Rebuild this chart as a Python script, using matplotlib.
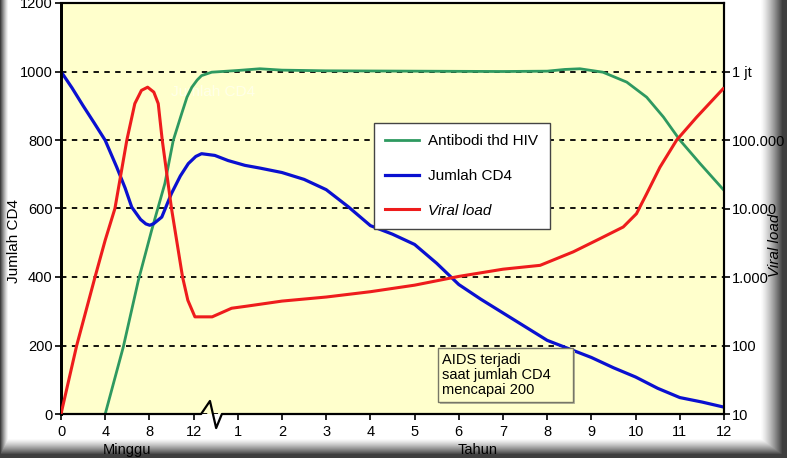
import numpy as np
import matplotlib
matplotlib.use('Agg')
import matplotlib.pyplot as plt
from matplotlib.patches import Rectangle

plt.rcParams['font.family'] = ['Liberation Sans', 'DejaVu Sans']

# posisi sumbu x: 0..3 = minggu/4 (0-12 minggu), 3..15 = tahun + 3
tick_pos = [0, 1, 2, 3, 4, 5, 6, 7, 8, 9, 10, 11, 12, 13, 14, 15]
tick_lbl = ['0', '4', '8', '12', '1', '2', '3', '4', '5', '6', '7', '8', '9', '10', '11', '12']

# jumlah CD4
cd4_x = [0, 0.25, 0.5, 0.75, 1.0, 1.26, 1.45, 1.6, 1.8, 1.92, 2.01, 2.1, 2.28, 2.5, 2.7, 2.88,
         3.05, 3.18, 3.48, 3.78, 4.16, 4.5, 5, 5.5, 6, 6.5, 7, 7.5, 8, 8.5, 9, 9.5, 10, 10.5,
         11, 11.5, 12, 12.5, 13, 13.5, 14, 14.5, 15]
cd4_y = [1000, 952, 900, 850, 799, 721, 660, 604, 568, 555, 551, 556, 575, 644, 695, 731,
         752, 760, 755, 740, 726, 718, 705, 685, 655, 605, 550, 525, 495, 440, 378, 335, 295,
         255, 215, 190, 165, 135, 108, 75, 48, 35, 20]

# antibodi thd HIV (skala relatif, sumbu kiri)
ab_x = [1.0, 1.41, 1.75, 2.05, 2.35, 2.54, 2.73, 2.85, 2.96, 3.08, 3.18, 3.41, 4, 4.5, 5, 6,
        8, 10, 11, 11.4, 11.74, 12.26, 12.8, 13.25, 13.63, 14.0, 14.46, 15]
ab_y = [0, 196, 390, 536, 673, 799, 877, 925, 954, 975, 988, 998, 1003, 1008, 1004, 1002,
        1001, 1000, 1001, 1006, 1008, 998, 969, 925, 867, 800, 731, 653]

# viral load (kopi/ml, sumbu kanan log)
vl_x = [0, 0.355, 0.77, 1.0, 1.22, 1.49, 1.67, 1.82, 1.96, 2.1, 2.2, 2.29, 2.5, 2.75, 2.87,
        3.03, 3.42, 3.86, 4.2, 5, 6, 7, 8, 9, 10, 10.84, 11.59, 12.19, 12.72, 13.02, 13.25,
        13.55, 13.93, 14.38, 14.98]
vl_y = [10, 100, 1000, 3450, 1e4, 1e5, 3.4e5, 5.3e5, 5.9e5, 5e5, 3.4e5, 1e5, 1e4, 1000, 457,
        262, 262, 350, 375, 445, 510, 610, 760, 1020, 1300, 1480, 2330, 3620, 5370, 8400,
        16400, 40000, 100000, 215000, 560000]

fig = plt.figure(figsize=(7.87, 4.58), dpi=100)

# bayangan gelap di tepi gambar
bg = fig.add_axes([0, 0, 1, 1], zorder=-5)
W, H = 787, 458
xx, yy = np.meshgrid(np.arange(W), np.arange(H))
d = np.zeros((H, W))
d = np.maximum(d, np.clip((8 - xx) / 8, 0, 1))
d = np.maximum(d, np.clip((xx - 760) / 22, 0, 1))
d = np.maximum(d, np.clip((yy - 438) / 16, 0, 1))
img = np.zeros((H, W, 4))
img[..., :3] = 0.2
img[..., 3] = d ** 1.3 * 0.95
bg.imshow(img, aspect='auto', extent=(0, 1, 0, 1))
bg.axis('off')

ax = fig.add_axes([61 / 787, 1 - 414 / 458, 663 / 787, 411 / 458])
ax.set_facecolor('#ffffcc')
ax.set_xlim(0, 15)
ax.set_ylim(0, 1200)

ax2 = ax.twinx()
ax2.set_yscale('log')
ax2.set_ylim(10, 1e7)

ax.yaxis.grid(True, color='black', linestyle=(0, (3, 3)), linewidth=1.3)
ax.set_axisbelow(True)

ax.plot(ab_x, ab_y, color='#2e9960', lw=2, label='Antibodi thd HIV', zorder=3)
ax.plot(cd4_x, cd4_y, color='#0a10d0', lw=2.3, label='Jumlah CD4', zorder=3)
ax2.plot(vl_x, vl_y, color='#ee1c1c', lw=2.2, zorder=3)
ax.plot([], [], color='#ee1c1c', lw=2.2, label='Viral load')

leg = ax.legend(loc='upper left', bbox_to_anchor=(0.472, 0.708), fontsize=11,
                frameon=True, fancybox=False, edgecolor='#444444', framealpha=1,
                borderpad=0.75, labelspacing=1.35, handlelength=2.2, handletextpad=0.6,
                borderaxespad=0)
leg.get_frame().set_linewidth(1.0)
leg.get_texts()[2].set_style('italic')
leg.set_zorder(10)

# kotak keterangan AIDS
ax.add_patch(Rectangle((8.58, 28), 3.05, 157, facecolor='#b8b8a0', edgecolor='none', zorder=4))
ax.add_patch(Rectangle((8.53, 35), 3.05, 157, facecolor='#ffffcc', edgecolor='#777766',
                       lw=1, zorder=5))
ax.text(8.63, 113, 'AIDS terjadi\nsaat jumlah CD4\nmencapai 200', fontsize=10.5,
        va='center', ha='left', linespacing=1.1, zorder=6)

ax.text(4.39, 939, 'Jumlah CD4', color='white', alpha=0.55, fontsize=11, ha='right',
        va='center', zorder=2)

# sumbu x dengan patahan
ax.plot([0, 3.17, 3.37, 3.51, 3.64, 15], [0, 0, 38, -41, 0, 0], color='black', lw=1.6,
        clip_on=False, zorder=8)

for a in (ax, ax2):
    a.spines['left'].set_linewidth(2)
    a.spines['right'].set_linewidth(1.5)
    a.spines['top'].set_linewidth(1.5)
    a.spines['bottom'].set_visible(False)

ax.set_xticks(tick_pos)
ax.set_xticklabels(tick_lbl)
ax.set_yticks([0, 200, 400, 600, 800, 1000, 1200])
ax.tick_params(axis='both', labelsize=10.5, length=4, width=1.2, direction='out', pad=2)
ax.tick_params(axis='x', pad=4)

ax2.set_yticks([10, 100, 1e3, 1e4, 1e5, 1e6])
ax2.set_yticklabels(['10', '100', '1.000', '10.000', '100.000', '1 jt'])
ax2.minorticks_off()
ax2.tick_params(axis='y', labelsize=10.5, length=4, width=1.2, direction='out', pad=2)

ax.set_ylabel('Jumlah CD4', fontsize=11)
ax.yaxis.set_label_coords(-0.061, 0.42)
ax2.set_ylabel('Viral load', fontsize=11, style='italic')
ax2.yaxis.set_label_coords(1.066, 0.41)

ax.text(1.5, -0.088, 'Minggu', transform=ax.get_xaxis_transform(), ha='center',
        va='center', fontsize=10.5)
ax.text(9.43, -0.088, 'Tahun', transform=ax.get_xaxis_transform(), ha='center',
        va='center', fontsize=10.5)

fig.savefig('out.png', dpi=100)
